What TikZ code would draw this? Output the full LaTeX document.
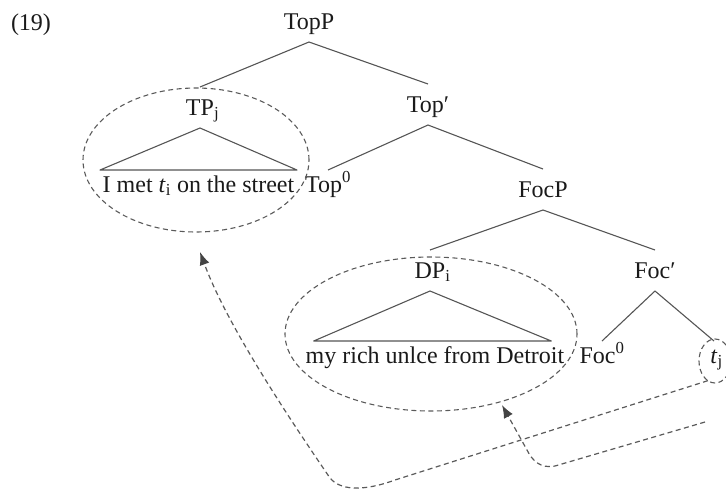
\documentclass[tikz,border=0pt]{standalone}
\usepackage{fontspec}
\setmainfont{Liberation Serif}
\usetikzlibrary{shapes.geometric,arrows.meta}
\definecolor{ink}{HTML}{1A1A1A}
\definecolor{linegray}{HTML}{555555}
\definecolor{dashgray}{HTML}{5A5A5A}
\definecolor{tipgray}{HTML}{444444}
\begin{document}
\begin{tikzpicture}[x=1pt,y=-1pt,
  every node/.style={font=\fontsize{24}{28}\selectfont, text=ink, inner xsep=0pt, outer sep=0pt},
  phr/.style={anchor=base, text height=16pt, text depth=1pt, inner ysep=12pt},
  hd/.style={anchor=base, text height=16pt, text depth=1pt, inner ysep=6pt},
  br/.style={draw=linegray, line width=1.1pt, line join=round},
  oval/.style={ellipse, draw=dashgray, line width=1.1pt, dash pattern=on 5pt off 3.5pt},
  mv/.style={draw=dashgray, line width=1.2pt, dash pattern=on 5pt off 3.5pt,
             -{Latex[length=13pt,width=10pt,color=tipgray]}}
]
\useasboundingbox (0,0) rectangle (726,488);

% labels
\node[anchor=base west] (ex) at (11,30) {(19)};
\node[phr] (TopP) at (309,29) {TopP};
\node[phr] (TP) at (200,115) {TP\rlap{\textsubscript{j}}};
\node[phr] (TopB) at (428,112) {Top′};
\node[hd] (Top0) at (328,192) {Top\textsuperscript{0}};
\node[phr] (FocP) at (543,197) {FocP};
\node[phr] (DP) at (430,278) {DP\rlap{\textsubscript{i}}};
\node[phr] (FocB) at (655,278) {Foc′};
\node[hd] (Foc0) at (602,363) {Foc\textsuperscript{0}};
\node[hd] (tj) at (714,363) {\textit{t}\rlap{\textsubscript{j}}};
\node[hd, minimum width=197pt] (S1) at (198.5,192) {I met \textit{t}\textsubscript{i} on the street};
\node[hd] (S2) at (435,363) {my rich unlce from Detroit};

% branches
\draw[br] (TP.north) -- (TopP.south) -- (TopB.north);
\draw[br] (Top0.north) -- (TopB.south) -- (FocP.north);
\draw[br] (DP.north) -- (FocP.south) -- (FocB.north);
\draw[br] (Foc0.north) -- (FocB.south) -- (tj.north);

% triangles
\draw[br] (TP.south) -- (S1.north west) -- (S1.north east) -- cycle;
\draw[br] (DP.south) -- ([xshift=8pt]S2.north west) -- ([xshift=-13pt]S2.north east) -- cycle;

% dashed ovals
\node[oval, minimum width=226pt, minimum height=144pt] (E1) at (196,160) {};
\node[oval, minimum width=292pt, minimum height=154pt] (E2) at (431,334) {};
\node[oval, minimum width=32pt, minimum height=44pt] (E3) at (715,361) {};

% movement arrows
\coordinate (tip1) at (200,252);
\coordinate (tip2) at (502,405);
\coordinate (src2) at (705,422);
\draw[mv] (E3.250) -- (395,480) .. controls (362,492) and (340,490) .. (330,478)
          .. controls (280,405) and (225,320) .. (tip1);
\draw[mv] (src2) -- (555,466) .. controls (540,469) and (532,460) .. (527,450) -- (tip2);
\end{tikzpicture}
\end{document}
